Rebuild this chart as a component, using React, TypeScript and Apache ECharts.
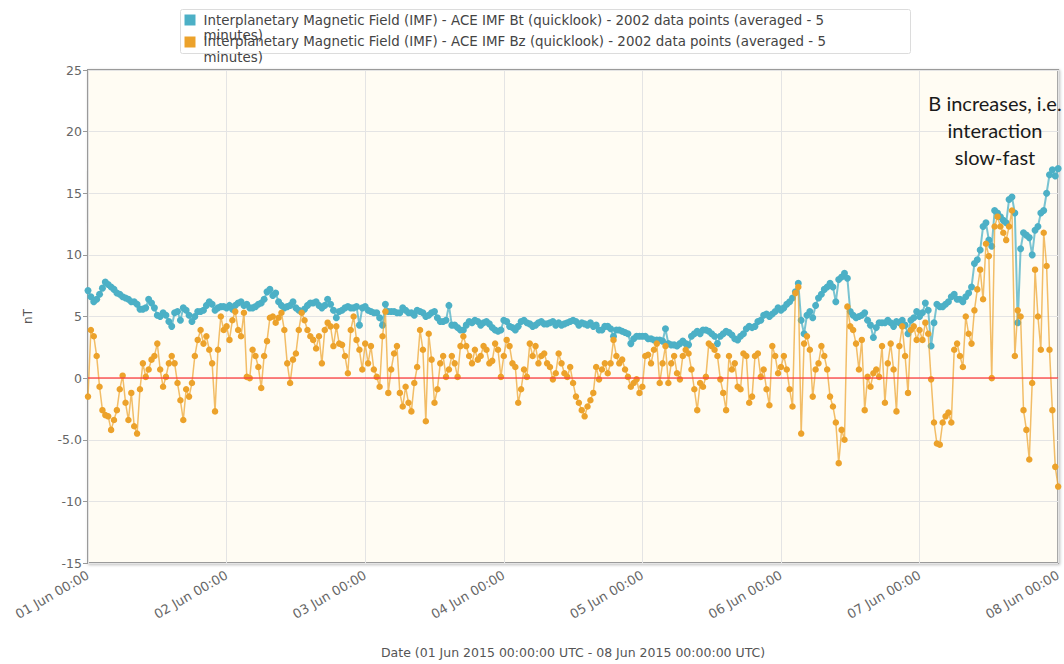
import React, { useEffect, useRef } from "react";
import * as echarts from "echarts";

const xTickLabels = [
  "01 Jun 00:00", "02 Jun 00:00", "03 Jun 00:00", "04 Jun 00:00",
  "05 Jun 00:00", "06 Jun 00:00", "07 Jun 00:00", "08 Jun 00:00",
];
const yTickLabels = ["-15", "-10", "-5.0", "0", "5", "10", "15", "20", "25"];

const btName =
  "Interplanetary Magnetic Field (IMF) - ACE IMF Bt (quicklook) - 2002 data points (averaged - 5 minutes)";
const bzName =
  "Interplanetary Magnetic Field (IMF) - ACE IMF Bz (quicklook) - 2002 data points (averaged - 5 minutes)";

// Bt: half-hourly readings, 01 Jun 00:00 .. 08 Jun 00:00 (UTC)
const btValues = [
  // 01 Jun
  7.1, 6.6, 6.2, 6.4, 6.8, 7.3, 7.8, 7.6, 7.4, 7.2, 6.9, 6.8, 6.6, 6.5, 6.4, 6.2,
  6.2, 6.0, 5.6, 5.6, 5.7, 6.4, 6.1, 5.7, 5.1, 5.0, 5.3, 5.1, 4.6, 4.2, 5.3, 5.4,
  4.7, 5.7, 5.5, 5.1, 4.6, 5.0, 5.4, 5.4, 5.5, 5.9, 6.2, 6.0, 5.5, 5.7, 5.8, 5.8,
  // 02 Jun
  5.7, 5.9, 5.6, 5.9, 6.1, 6.2, 5.9, 6.0, 5.7, 5.7, 5.8, 6.0, 6.1, 6.4, 7.0, 7.2,
  6.7, 6.9, 6.2, 5.9, 5.7, 5.8, 5.9, 6.2, 5.7, 5.5, 5.4, 5.6, 5.9, 6.1, 6.1, 6.2,
  5.9, 5.7, 5.9, 6.4, 6.0, 5.5, 4.9, 5.4, 5.5, 5.7, 5.8, 5.7, 5.7, 5.8, 4.3, 5.7,
  // 03 Jun
  5.8, 5.5, 5.4, 5.3, 5.3, 4.9, 4.3, 6.0, 5.4, 5.4, 5.4, 5.3, 5.3, 5.7, 5.5, 5.3,
  5.3, 5.1, 5.5, 5.4, 5.3, 5.0, 5.1, 5.3, 5.4, 4.9, 4.6, 4.6, 4.7, 5.9, 4.3, 4.3,
  4.1, 3.9, 3.9, 4.3, 4.6, 4.5, 4.7, 4.6, 4.3, 4.5, 4.6, 4.4, 4.1, 3.9, 3.8, 3.9,
  // 04 Jun
  4.7, 4.6, 4.2, 4.1, 3.9, 4.2, 4.6, 4.7, 4.5, 4.4, 4.2, 4.3, 4.5, 4.6, 4.4, 4.4,
  4.5, 4.6, 4.3, 4.5, 4.3, 4.4, 4.5, 4.6, 4.7, 4.6, 4.3, 4.5, 4.4, 4.3, 4.5, 4.2,
  4.3, 3.9, 3.9, 4.2, 4.2, 4.0, 3.4, 3.9, 3.9, 3.8, 3.7, 3.6, 2.8, 3.2, 3.4, 3.4,
  // 05 Jun
  3.4, 3.4, 3.2, 3.2, 3.1, 3.1, 3.1, 3.0, 4.0, 2.8, 2.7, 2.7, 2.6, 2.8, 3.0, 2.8,
  2.7, 3.4, 3.6, 3.8, 3.6, 3.9, 3.9, 3.8, 3.6, 3.4, 2.8, 3.4, 3.6, 3.8, 3.7, 3.5,
  3.2, 3.1, 3.4, 3.6, 4.0, 4.2, 4.1, 4.2, 4.6, 4.7, 5.1, 5.2, 5.0, 5.2, 5.4, 5.7,
  // 06 Jun
  5.5, 5.7, 6.0, 6.2, 6.5, 7.0, 7.7, 4.7, 3.6, 5.1, 5.4, 4.9, 5.9, 6.5, 6.8, 7.2,
  7.4, 7.7, 7.4, 6.2, 8.0, 8.2, 8.5, 8.1, 5.4, 5.1, 4.9, 5.0, 5.1, 5.3, 4.7, 4.3,
  3.3, 4.1, 4.5, 4.5, 4.5, 4.7, 4.5, 4.2, 4.6, 4.5, 4.7, 4.3, 3.6, 4.7, 4.9, 5.4,
  // 07 Jun
  5.0, 5.3, 6.1, 5.5, 2.6, 4.5, 6.0, 5.8, 5.8, 6.0, 6.2, 6.6, 6.8, 6.4, 6.4, 6.2,
  6.6, 6.9, 7.4, 9.3, 9.6, 10.4, 12.3, 12.6, 11.2, 10.7, 13.6, 13.4, 13.1, 12.8, 12.6, 14.5,
  14.7, 13.4, 4.5, 10.5, 11.8, 11.6, 11.4, 10.0, 12.0, 12.3, 13.4, 13.6, 15.0, 16.5, 16.9, 16.4,
  // 08 Jun 00:00
  17.0,
];

// Bz: half-hourly readings, 01 Jun 00:00 .. 08 Jun 00:00 (UTC)
const bzValues = [
  // 01 Jun
  -1.5, 3.9, 3.4, 1.8, -0.7, -2.6, -3.0, -3.1, -4.2, -3.4, -2.6, -0.9, 0.2, -2.0, -3.4, -1.2,
  -3.9, -4.5, -0.9, 1.2, 0.1, 0.7, 1.5, 1.8, 2.8, 0.7, -0.7, 0.1, 1.2, 1.8, 1.2, -0.4,
  -1.8, -3.4, -0.9, -1.5, -0.4, 1.8, 3.1, 3.9, 2.8, 3.4, 2.3, 1.2, -2.7, 2.3, 5.0, 3.9,
  // 02 Jun
  4.2, 3.1, 4.7, 5.4, 3.9, 3.4, 5.3, 0.1, 0.0, 2.3, 1.8, 0.9, -0.8, 1.8, 3.0, 4.9,
  5.0, 4.5, 4.9, 5.3, 3.9, 1.2, -0.4, 1.5, 2.0, 3.9, 5.3, 4.7, 3.9, 3.4, 3.1, 2.4,
  3.4, 1.2, 3.9, 4.5, 4.2, 2.6, 4.2, 2.8, 2.7, 1.8, 0.4, 3.9, 5.0, 3.1, 2.3, 0.7,
  // 03 Jun
  2.8, 1.2, 2.6, 0.7, 0.1, -0.7, 3.4, 5.4, -1.2, 0.7, 2.0, 2.6, -1.2, -2.3, -0.7, -2.0,
  -2.7, -0.4, 0.9, 3.9, 2.3, -3.5, 3.6, 1.5, -2.0, -0.9, 1.2, 1.8, 0.1, 0.7, 1.8, 1.2,
  0.1, 2.6, 3.4, 2.6, 1.8, 1.2, 2.3, 1.5, 1.8, 2.6, 2.3, 1.2, 1.4, 2.8, 2.3, 0.1,
  // 04 Jun
  1.8, 3.1, 2.6, 1.2, 0.9, -2.0, -0.9, 0.7, 0.1, 2.8, 1.8, 2.6, 1.2, 1.8, 2.0, 1.2,
  0.9, -0.1, 0.4, 2.0, 1.2, 0.4, 0.1, 0.9, -0.4, -1.5, -2.0, -2.6, -3.1, -2.3, -1.8, -1.2,
  0.9, -0.1, 0.7, 1.2, 0.4, 1.2, 3.1, 1.8, 1.2, 1.5, 0.7, 0.1, -0.7, -0.4, -0.1, -1.2,
  // 05 Jun
  -0.7, 1.8, 1.9, 1.2, 2.3, 2.8, -0.4, 1.2, 2.6, -0.4, 1.2, 1.8, 0.4, -0.1, 1.8, 2.3,
  2.0, 0.7, -0.9, -2.6, -0.4, -0.7, 0.1, 2.8, 2.6, 2.3, 1.8, -0.1, -1.2, -2.6, 1.8, 0.7,
  1.2, -0.7, -0.9, 2.0, 1.8, -2.0, -1.5, 1.8, 2.0, 0.1, 0.7, -0.9, -2.2, 2.6, 1.8, 0.4,
  // 06 Jun
  0.9, 1.8, 0.7, -0.9, -2.3, 6.9, 7.4, -4.5, 2.8, 3.4, 2.3, -1.5, 0.7, 1.2, 2.6, 1.8,
  0.7, -1.5, -2.3, -3.6, -6.9, -4.2, -5.0, 5.8, 4.2, 3.9, 2.8, 0.7, 3.1, -2.6, 0.1, -0.7,
  0.4, 0.7, 0.1, 2.6, -2.0, 1.2, 2.8, 0.7, -2.7, 2.6, 4.2, 1.8, -1.2, 3.9, 4.2, 3.1,
  // 07 Jun
  3.9, 3.1, 4.5, 3.6, -0.1, -3.6, -5.3, -5.4, -3.6, -3.1, -2.8, -3.6, 2.3, 2.8, 1.8, 0.9,
  5.0, 3.6, 2.8, 5.5, 7.2, 8.8, 6.4, 10.9, 9.9, 0.0, 12.3, 13.1, 12.3, 11.8, 11.2, 12.3,
  13.6, 1.8, 5.5, 5.0, -2.6, -4.2, -6.6, -0.4, 8.8, 5.0, 2.3, 11.8, 9.1, 2.3, -2.6, -7.2,
  // 08 Jun 00:00
  -8.8,
];

const annotationLines = ["B increases, i.e.", "interaction", "slow-fast"];

const BT_COLOR = "#4cb0c6";
const BZ_COLOR = "#eca22b";
const FONT = "DejaVu Sans";

export default function App() {
  const ref = useRef<HTMLDivElement>(null);

  useEffect(() => {
    if (!ref.current) return;
    const chart = echarts.init(ref.current, undefined, { renderer: "svg" });

    const toPairs = (vals: number[], hoursPerStep: number) =>
      vals.map((v, i) => [i * hoursPerStep, v]);
    const legendRow = (name: string) => {
      const cut = name.lastIndexOf(" ");
      return [name.slice(0, cut), name.slice(cut + 1)];
    };
    const [bt1, bt2] = legendRow(btName);
    const [bz1, bz2] = legendRow(bzName);
    const legendFont = `13.4px '${FONT}'`;

    chart.setOption({
      animation: false,
      backgroundColor: "#ffffff",
      grid: {
        left: 88,
        right: 2,
        top: 70,
        bottom: 101,
        show: true,
        backgroundColor: "#fffcf3",
        borderColor: "#9a9a9a",
        borderWidth: 2,
        shadowColor: "rgba(0,0,0,0.25)",
        shadowBlur: 3,
        shadowOffsetX: 1,
        shadowOffsetY: 1,
      },
      xAxis: {
        type: "value",
        min: 0,
        max: 168,
        interval: 24,
        name: "Date (01 Jun 2015 00:00:00 UTC - 08 Jun 2015 00:00:00 UTC)",
        nameLocation: "middle",
        nameGap: 83,
        nameTextStyle: { color: "#555", fontFamily: FONT, fontSize: 12.5 },
        axisLine: { show: false },
        axisTick: { show: false },
        axisLabel: {
          rotate: 30,
          color: "#666",
          fontFamily: FONT,
          fontSize: 13,
          margin: 11,
          formatter: (v: number) => xTickLabels[Math.round(v / 24)] ?? "",
        },
        splitLine: { show: true, lineStyle: { color: "#e4e4e4", width: 1 } },
      },
      yAxis: {
        type: "value",
        min: -15,
        max: 25,
        interval: 5,
        name: "nT",
        nameLocation: "middle",
        nameRotate: 90,
        nameGap: 54,
        nameTextStyle: { color: "#555", fontFamily: FONT, fontSize: 12 },
        axisLine: { show: false },
        axisTick: { show: true, length: 5, lineStyle: { color: "#999" } },
        axisLabel: {
          color: "#666",
          fontFamily: FONT,
          fontSize: 12.5,
          margin: 6,
          formatter: (v: number) => yTickLabels[Math.round((v + 15) / 5)] ?? "",
        },
        splitLine: { show: true, lineStyle: { color: "#e4e4e4", width: 1 } },
      },
      series: [
        {
          name: btName,
          type: "line",
          data: toPairs(btValues, 0.5),
          symbol: "circle",
          symbolSize: 7,
          showSymbol: true,
          itemStyle: { color: BT_COLOR },
          lineStyle: { color: BT_COLOR, width: 2, opacity: 0.75 },
          z: 2,
        },
        {
          name: bzName,
          type: "line",
          data: toPairs(bzValues, 0.5),
          symbol: "circle",
          symbolSize: 6.5,
          showSymbol: true,
          itemStyle: { color: BZ_COLOR },
          lineStyle: { color: BZ_COLOR, width: 1.5, opacity: 0.7 },
          z: 3,
          markLine: {
            silent: true,
            symbol: "none",
            label: { show: false },
            lineStyle: { color: "rgba(255,60,60,0.85)", width: 1.5, type: "solid" },
            data: [{ yAxis: 0 }],
            z: 10,
          },
        },
      ],
      graphic: [
        {
          type: "group",
          left: 180,
          top: 9,
          children: [
            {
              type: "rect",
              shape: { x: 0, y: 0, width: 730, height: 44, r: 2 },
              style: { fill: "#ffffff", stroke: "#dcdcdc", lineWidth: 1 },
            },
            {
              type: "rect",
              shape: { x: 4, y: 5, width: 11, height: 11 },
              style: { fill: BT_COLOR },
            },
            {
              type: "text",
              x: 23, y: 11,
              style: { text: bt1, fill: "#444", font: legendFont, verticalAlign: "middle" },
            },
            {
              type: "text",
              x: 23, y: 26,
              style: { text: bt2, fill: "#444", font: legendFont, verticalAlign: "middle" },
            },
            {
              type: "rect",
              shape: { x: 4, y: 27, width: 11, height: 11 },
              style: { fill: BZ_COLOR },
            },
            {
              type: "text",
              x: 23, y: 32,
              style: { text: bz1, fill: "#444", font: legendFont, verticalAlign: "middle" },
            },
            {
              type: "text",
              x: 23, y: 48,
              style: { text: bz2, fill: "#444", font: legendFont, verticalAlign: "middle" },
            },
          ],
        },
        ...annotationLines.map((t, i) => ({
          type: "text",
          x: 995,
          y: 103 + i * 27,
          z: 20,
          style: {
            text: t,
            fill: "#1a1a1a",
            font: "20px Lato",
            align: "center",
            verticalAlign: "middle",
          },
        })),
      ],
    });

    return () => chart.dispose();
  }, []);

  return (
    <div
      ref={ref}
      style={{ position: "absolute", left: 0, top: 0, width: 1064, height: 664 }}
    />
  );
}
